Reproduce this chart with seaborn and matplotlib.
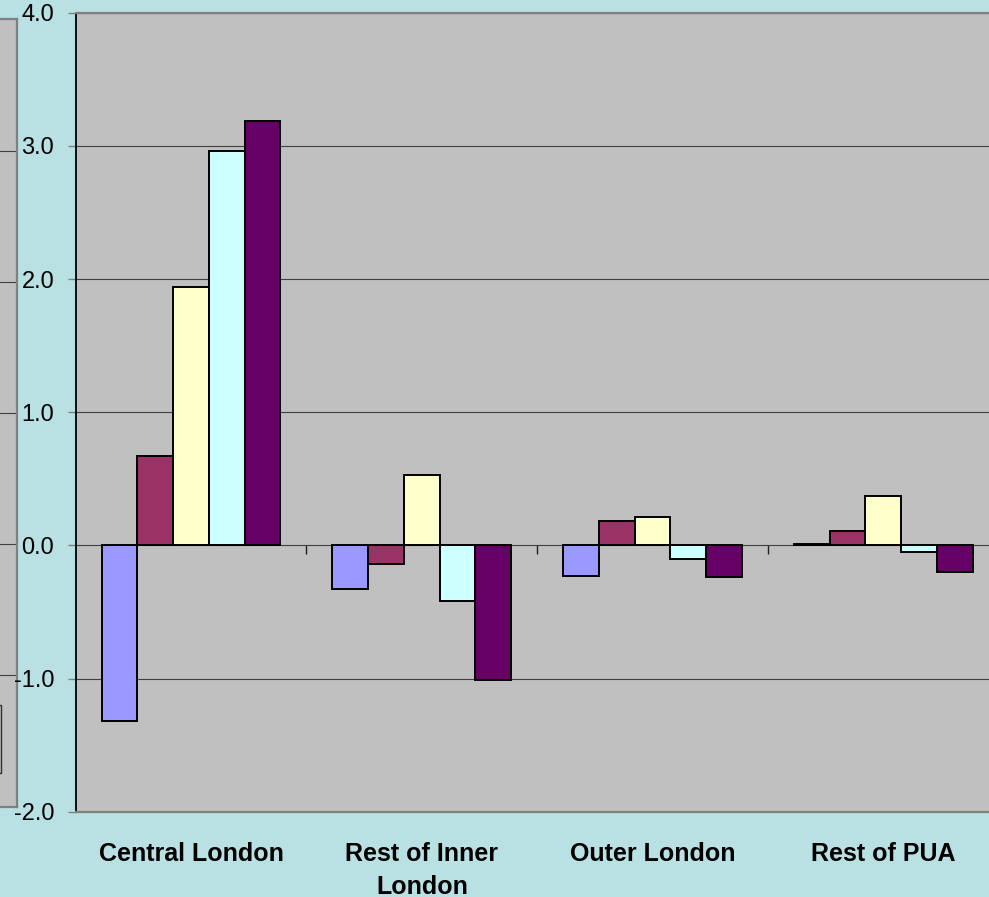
import matplotlib
matplotlib.use("Agg")
import matplotlib.pyplot as plt
from matplotlib.patches import Rectangle
import numpy as np
import pandas as pd
import seaborn as sns

# Areas on the category axis
areas = ["Central London", "Rest of Inner\nLondon", "Outer London", "Rest of PUA"]

# One value list per series, in area order
series_names = ["Series 1", "Series 2", "Series 3", "Series 4", "Series 5"]
series_1 = [-1.32, -0.33, -0.23, 0.01]
series_2 = [0.67, -0.14, 0.18, 0.11]
series_3 = [1.94, 0.53, 0.21, 0.37]
series_4 = [2.96, -0.42, -0.10, -0.05]
series_5 = [3.19, -1.01, -0.24, -0.20]

y_ticks = [-2.0, -1.0, 0.0, 1.0, 2.0, 3.0, 4.0]
y_tick_labels = [f"{v:.1f}" for v in y_ticks]

colors = ["#9999FF", "#993366", "#FFFFCC", "#CCFFFF", "#660066"]

rows = []
for name, vals in zip(series_names, [series_1, series_2, series_3, series_4, series_5]):
    for area, v in zip(areas, vals):
        rows.append({"area": area, "series": name, "value": v})
df = pd.DataFrame(rows)

sns.set_theme(style="white")
plt.rcParams["font.family"] = ["Liberation Sans", "DejaVu Sans"]
plt.rcParams["text.color"] = "black"
plt.rcParams["xtick.labelcolor"] = "black"
plt.rcParams["ytick.labelcolor"] = "black"

W, H = 989, 897
fig = plt.figure(figsize=(W / 100, H / 100), dpi=100)
bg = "#B9E0E3"
fig.patch.set_facecolor(bg)

grid_col = "#404040"
border_col = "#808080"

# Neighbouring panel partly visible at the left edge
left_ax = fig.add_axes([-0.05, (H - 806.7) / H, 16.7 / W + 0.05, (806.7 - 19.3) / H])
left_ax.set_facecolor("#C0C0C0")
left_ax.set_ylim(-2, 4)
left_ax.set_xlim(0, 1)
for v in y_ticks[1:-1]:
    left_ax.axhline(v, color=grid_col, lw=0.8)
left_ax.set_xticks([])
left_ax.set_yticks([])
for s in ["top", "right", "bottom"]:
    left_ax.spines[s].set_color(border_col)
    left_ax.spines[s].set_linewidth(1.6)
left_ax.spines["left"].set_visible(False)
fig.patches.append(Rectangle((-6 / W, (H - 773) / H), 7 / W, 68 / H,
                             transform=fig.transFigure, fill=False,
                             edgecolor="#303030", lw=1.0))

# Main chart
ax = fig.add_axes([75.7 / W, (H - 811.7) / H, 923 / W, 799 / H])
ax.set_facecolor("#C0C0C0")
sns.barplot(data=df, x="area", y="value", hue="series", order=areas,
            hue_order=series_names, palette=colors, width=0.775,
            saturation=1, edgecolor="black", linewidth=1.4,
            legend=False, ax=ax)

ax.set_xlim(-0.5, 3.5)
ax.set_ylim(-2, 4)
ax.set_yticks(y_ticks)
ax.set_yticklabels(y_tick_labels, fontsize=17, color="black")
ax.set_xlabel("")
ax.set_ylabel("")
ax.set_axisbelow(True)
ax.yaxis.grid(True, color=grid_col, lw=0.8)
ax.xaxis.grid(False)

ax.tick_params(axis="y", which="major", direction="out", length=6, width=1,
               color=border_col, pad=9.5, left=True)
ax.tick_params(axis="x", which="major", length=0, pad=22)
for lbl in ax.get_xticklabels():
    lbl.set_fontsize(18)
    lbl.set_fontweight("bold")
    lbl.set_color("black")
    lbl.set_linespacing(1.45)
    lbl.set_verticalalignment("top")

ax.spines["left"].set_color("black")
ax.spines["left"].set_linewidth(1.3)
for s in ["top", "bottom"]:
    ax.spines[s].set_color(border_col)
    ax.spines[s].set_linewidth(1.6)
ax.spines["right"].set_visible(False)

# Category separators hanging from the zero line
sec = ax.secondary_xaxis(1 / 3)
sec.set_xticks([0.5, 1.5, 2.5])
sec.set_xticklabels([])
sec.tick_params(axis="x", direction="out", length=6.5, width=1, color="#202020")
sec.spines["bottom"].set_visible(False)

fig.savefig("out.png", dpi=100, facecolor=bg)
